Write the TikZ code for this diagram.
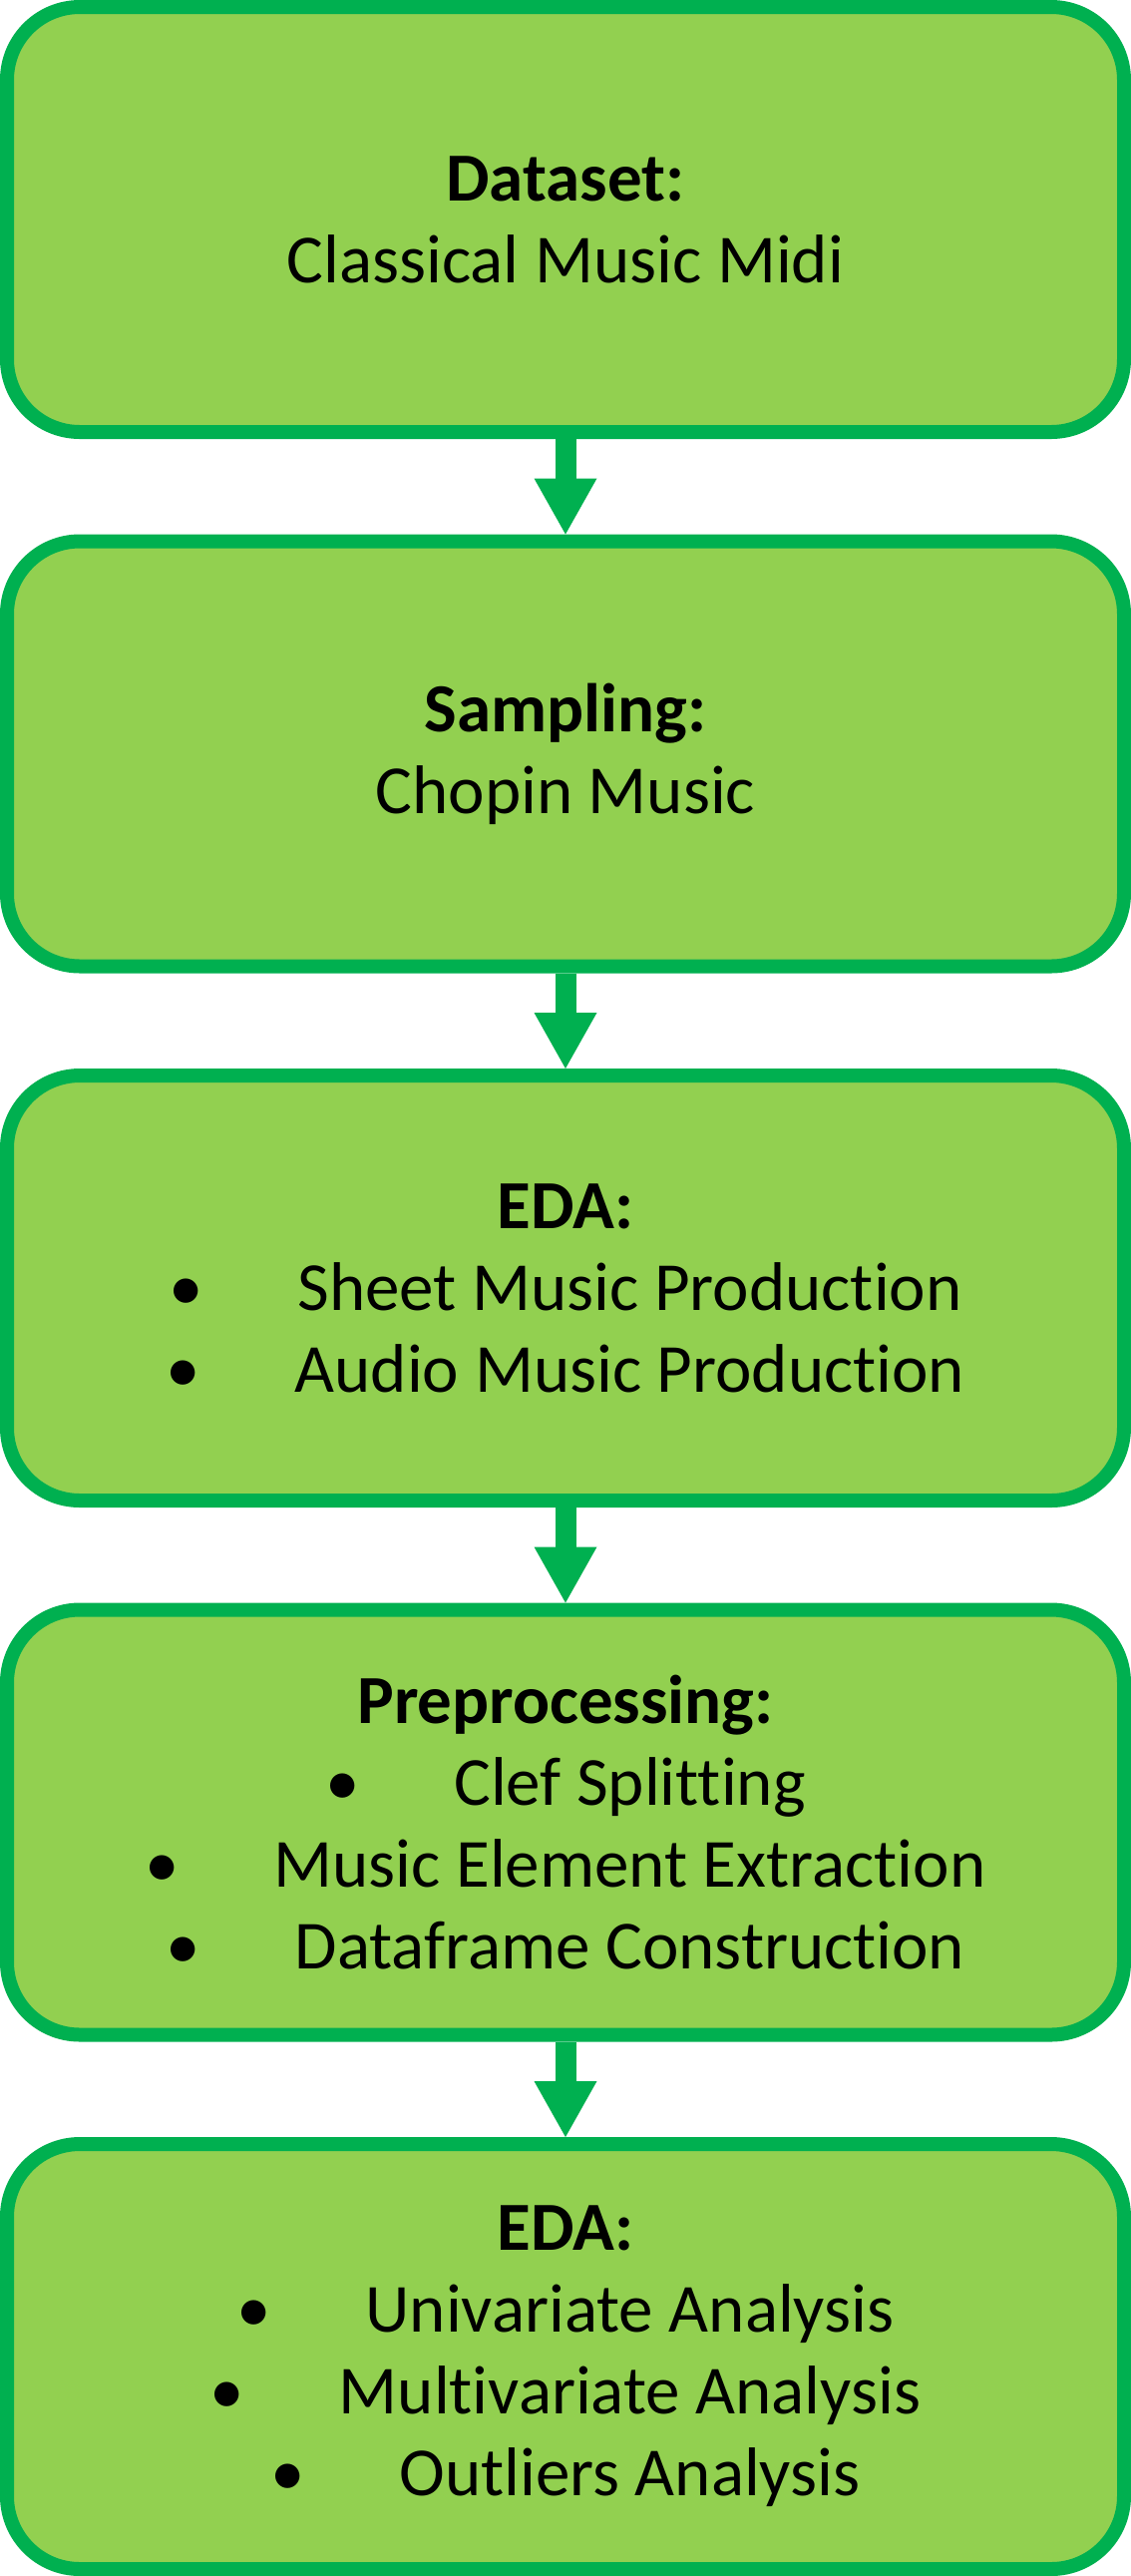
\documentclass[tikz,border=0pt]{standalone}
\usepackage{fontspec}
\setmainfont{Carlito}[Ligatures=NoCommon]
\usetikzlibrary{positioning,arrows.meta}
\definecolor{boxfill}{HTML}{92D050}
\definecolor{boxline}{HTML}{00B050}
% one bullet line of a stage box
\newcommand{\itm}[1]{\makebox[1.87em][l]{\textbullet}#1}

\begin{document}
\begin{tikzpicture}[
	stage/.style={draw=boxline, fill=boxfill, line width=7pt, rounded corners=36.5pt,
		minimum width=560pt, minimum height=213pt, inner sep=0pt, align=center,
		font=\fontsize{34.5}{41}\selectfont},
	flow/.style={draw=boxline, line width=10.5pt,
		-{Triangle[width=31.5pt,length=28pt,line width=0pt]}},
	node distance=47.75pt
]
	%Page size of the reference
	\useasboundingbox (0,0) rectangle (567pt,-1291pt);

	%The five stages, top to bottom
	\node[stage] (data) at (283.5pt,-110pt) {\textbf{Dataset:}\\Classical Music Midi};
	\node[stage, below=of data] (samp) {\textbf{Sampling:}\\Chopin Music};
	\node[stage, below=of samp] (edaone) {\textbf{EDA:}\\\itm{Sheet Music Production}\\\itm{Audio Music Production}};
	\node[stage, below=of edaone] (prep) {\textbf{Preprocessing:}\\\itm{Clef Splitting}\\\itm{Music Element Extraction}\\\itm{Dataframe Construction}};
	\node[stage, below=of prep] (edatwo) {\textbf{EDA:}\\\itm{Univariate Analysis}\\\itm{Multivariate Analysis}\\\itm{Outliers Analysis}};

	%Arrows between the stages
	\draw[flow] (data) -- (samp);
	\draw[flow] (samp) -- (edaone);
	\draw[flow] (edaone) -- (prep);
	\draw[flow] (prep) -- (edatwo);
\end{tikzpicture}
\end{document}
